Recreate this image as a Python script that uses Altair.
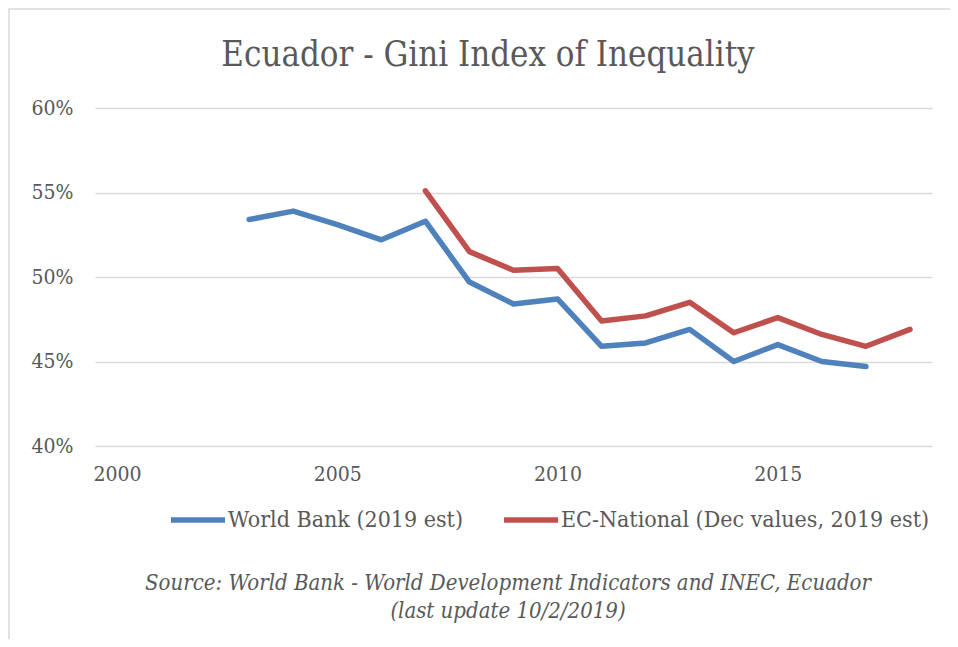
import altair as alt
import pandas as pd

# ---- data ----
wb_years = [2003, 2004, 2005, 2006, 2007, 2008, 2009, 2010, 2011, 2012, 2013, 2014, 2015, 2016, 2017]
wb_values = [53.4, 53.9, 53.1, 52.2, 53.3, 49.7, 48.4, 48.7, 45.9, 46.1, 46.9, 45.0, 46.0, 45.0, 44.7]

ec_years = [2007, 2008, 2009, 2010, 2011, 2012, 2013, 2014, 2015, 2016, 2017, 2018]
ec_values = [55.1, 51.5, 50.4, 50.5, 47.4, 47.7, 48.5, 46.7, 47.6, 46.6, 45.9, 46.9]

series_names = ["World Bank (2019 est)", "EC-National (Dec values, 2019 est)"]
series_colors = ["#4F81BD", "#C0504D"]

y_ticks = [40, 45, 50, 55, 60]
x_ticks = [2000, 2005, 2010, 2015]

title_text = "Ecuador - Gini Index of Inequality"
source_lines = [
    "Source: World Bank - World Development Indicators  and INEC, Ecuador",
    "(last update 10/2/2019)",
]

FONT = "'DejaVu Serif Condensed', 'Liberation Serif', serif"
GRAY = "#595959"

rows = []
for y, v in zip(wb_years, wb_values):
    rows.append({"year": y, "gini": v, "series": series_names[0]})
for y, v in zip(ec_years, ec_values):
    rows.append({"year": y, "gini": v, "series": series_names[1]})
df = pd.DataFrame(rows)

W, H = 837, 338

lines = alt.Chart(df).mark_line(
    strokeWidth=5.5, strokeCap="round", strokeJoin="round"
).encode(
    x=alt.X("year:Q",
            scale=alt.Scale(domain=[1999.5, 2018.5], nice=False, zero=False),
            axis=alt.Axis(values=x_ticks, format="d", title=None, grid=False,
                          domain=False, ticks=False, labelPadding=17,
                          labelFontSize=21, labelColor=GRAY, labelFont=FONT)),
    y=alt.Y("gini:Q",
            scale=alt.Scale(domain=[40, 60], nice=False, zero=False),
            axis=alt.Axis(values=y_ticks, labelExpr="datum.value + '%'", title=None,
                          grid=True, gridColor="#d9d9d9", gridWidth=1.6,
                          domain=False, ticks=False, labelPadding=22,
                          labelFontSize=21, labelColor=GRAY, labelFont=FONT)),
    color=alt.Color("series:N",
                    scale=alt.Scale(domain=series_names, range=series_colors),
                    legend=alt.Legend(orient="none", legendX=73, legendY=382,
                                      direction="horizontal", title=None,
                                      symbolType="stroke", symbolSize=2916,
                                      symbolStrokeWidth=5.5, labelOffset=0,
                                      columnPadding=30, labelFontSize=23,
                                      labelColor=GRAY, labelFont=FONT,
                                      labelLimit=500)),
    detail="series:N",
)

title_df = pd.DataFrame({"t": [title_text]})
title_mark = alt.Chart(title_df).mark_text(
    font=FONT, fontSize=34.5, color=GRAY, align="center", baseline="alphabetic"
).encode(x=alt.value(393), y=alt.value(-42), text="t:N")

src_df = pd.DataFrame({"t": [source_lines]})
src_mark = alt.Chart(src_df).mark_text(
    font=FONT, fontSize=22, fontStyle="italic", color=GRAY, align="center",
    baseline="middle", lineHeight=28
).encode(x=alt.value(413), y=alt.value(475), text="t")

frame_df = pd.DataFrame({"f": [0]})
frame = alt.Chart(frame_df).mark_rect(
    fill="transparent", stroke="#d9d9d9", strokeWidth=1.5
).encode(x=alt.value(-86), x2=alt.value(880), y=alt.value(-99), y2=alt.value(600))

chart = alt.layer(frame, lines, title_mark, src_mark).properties(
    width=W, height=H,
    background="white",
    autosize=alt.AutoSizeParams(type="none"),
    padding={"left": 87, "top": 100, "right": 18, "bottom": 193},
).configure_view(stroke=None, strokeWidth=0)

chart.save("out.html", embed_options={"renderer": "svg", "actions": False})
